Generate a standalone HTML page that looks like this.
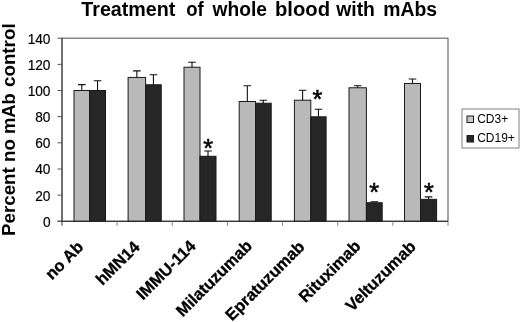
<!DOCTYPE html>
<html lang="en"><head><meta charset="utf-8"><title>Treatment of whole blood with mAbs</title>
<style>html,body{margin:0;padding:0;background:#fff}body{width:520px;height:322px;overflow:hidden}svg{display:block}text{font-family:"Liberation Sans",Arial,sans-serif;fill:#000}</style></head><body>
<svg width="520" height="322" viewBox="0 0 520 322">
<rect width="520" height="322" fill="#fff"/>
<g font-size="20" font-weight="bold">
<text x="81.3" y="15.9" textLength="94.1" lengthAdjust="spacingAndGlyphs">Treatment</text>
<text x="186.2" y="15.9" textLength="17.5" lengthAdjust="spacingAndGlyphs">of</text>
<text x="212.5" y="15.9" textLength="54.4" lengthAdjust="spacingAndGlyphs">whole</text>
<text x="274.95" y="15.9" textLength="55.1" lengthAdjust="spacingAndGlyphs">blood</text>
<text x="336.25" y="15.9" textLength="38.7" lengthAdjust="spacingAndGlyphs">with</text>
<text x="383.2" y="15.9" textLength="53.85" lengthAdjust="spacingAndGlyphs">mAbs</text>
</g>
<g font-size="18.75" font-weight="bold">
<text transform="translate(15.3,236.0) rotate(-90)" textLength="68.78" lengthAdjust="spacingAndGlyphs">Percent</text>
<text transform="translate(15.3,162.0) rotate(-90)" textLength="22.9" lengthAdjust="spacingAndGlyphs">no</text>
<text transform="translate(15.3,134.0) rotate(-90)" textLength="40.7" lengthAdjust="spacingAndGlyphs">mAb</text>
<text transform="translate(15.3,87.0) rotate(-90)" textLength="63.6" lengthAdjust="spacingAndGlyphs">control</text>
</g>
<rect x="62.0" y="38.2" width="386.0" height="183.10000000000002" fill="#fff" stroke="#6c6c6c" stroke-width="1.2"/>
<rect x="74.00" y="90.51" width="15.60" height="130.79" fill="#b9b9b9" stroke="#1a1a1a" stroke-width="1"/>
<path d="M81.80 90.51V84.63M78.00 84.63H85.60" stroke="#111" stroke-width="1.1" fill="none"/>
<rect x="89.60" y="90.51" width="15.90" height="130.79" fill="#262626" stroke="#1a1a1a" stroke-width="1"/>
<path d="M97.55 90.51V80.71M93.75 80.71H101.35" stroke="#111" stroke-width="1.1" fill="none"/>
<rect x="128.10" y="77.44" width="17.50" height="143.86" fill="#b9b9b9" stroke="#1a1a1a" stroke-width="1"/>
<path d="M136.85 77.44V70.90M133.05 70.90H140.65" stroke="#111" stroke-width="1.1" fill="none"/>
<rect x="145.60" y="84.76" width="15.65" height="136.54" fill="#262626" stroke="#1a1a1a" stroke-width="1"/>
<path d="M153.43 84.76V74.82M149.62 74.82H157.23" stroke="#111" stroke-width="1.1" fill="none"/>
<rect x="184.00" y="67.23" width="16.00" height="154.07" fill="#b9b9b9" stroke="#1a1a1a" stroke-width="1"/>
<path d="M192.00 67.23V62.26M188.20 62.26H195.80" stroke="#111" stroke-width="1.1" fill="none"/>
<rect x="200.00" y="156.30" width="16.00" height="65.00" fill="#262626" stroke="#1a1a1a" stroke-width="1"/>
<path d="M208.00 156.30V150.94M204.20 150.94H211.80" stroke="#111" stroke-width="1.1" fill="none"/>
<rect x="239.20" y="101.50" width="16.30" height="119.80" fill="#b9b9b9" stroke="#1a1a1a" stroke-width="1"/>
<path d="M247.35 101.50V85.68M243.55 85.68H251.15" stroke="#111" stroke-width="1.1" fill="none"/>
<rect x="255.50" y="103.20" width="15.70" height="118.10" fill="#262626" stroke="#1a1a1a" stroke-width="1"/>
<path d="M263.35 103.20V100.19M259.55 100.19H267.15" stroke="#111" stroke-width="1.1" fill="none"/>
<rect x="294.40" y="100.19" width="16.40" height="121.11" fill="#b9b9b9" stroke="#1a1a1a" stroke-width="1"/>
<path d="M302.60 100.19V90.25M298.80 90.25H306.40" stroke="#111" stroke-width="1.1" fill="none"/>
<rect x="310.80" y="116.80" width="15.30" height="104.50" fill="#262626" stroke="#1a1a1a" stroke-width="1"/>
<path d="M318.45 116.80V109.22M314.65 109.22H322.25" stroke="#111" stroke-width="1.1" fill="none"/>
<rect x="349.00" y="87.77" width="17.40" height="133.53" fill="#b9b9b9" stroke="#1a1a1a" stroke-width="1"/>
<path d="M357.70 87.77V85.68M353.90 85.68H361.50" stroke="#111" stroke-width="1.1" fill="none"/>
<rect x="366.40" y="202.73" width="15.80" height="18.57" fill="#262626" stroke="#1a1a1a" stroke-width="1"/>
<path d="M374.30 202.73V201.81M370.50 201.81H378.10" stroke="#111" stroke-width="1.1" fill="none"/>
<rect x="404.50" y="83.45" width="16.00" height="137.85" fill="#b9b9b9" stroke="#1a1a1a" stroke-width="1"/>
<path d="M412.50 83.45V79.01M408.70 79.01H416.30" stroke="#111" stroke-width="1.1" fill="none"/>
<rect x="420.50" y="199.33" width="16.10" height="21.97" fill="#262626" stroke="#1a1a1a" stroke-width="1"/>
<path d="M428.55 199.33V196.84M424.75 196.84H432.35" stroke="#111" stroke-width="1.1" fill="none"/>
<path d="M62.0 38.2V225.8" stroke="#444" stroke-width="1.1" fill="none"/>
<path d="M57.5 221.3H448.0" stroke="#262626" stroke-width="1.1" fill="none"/>
<path d="M57.5 221.30H62.0" stroke="#555" stroke-width="1"/>
<text x="50.5" y="226.70" font-size="14.67" stroke="#000" stroke-width="0.2" text-anchor="end" textLength="7.62" lengthAdjust="spacingAndGlyphs">0</text>
<path d="M57.5 195.14H62.0" stroke="#555" stroke-width="1"/>
<text x="50.5" y="200.54" font-size="14.67" stroke="#000" stroke-width="0.2" text-anchor="end" textLength="15.24" lengthAdjust="spacingAndGlyphs">20</text>
<path d="M57.5 168.99H62.0" stroke="#555" stroke-width="1"/>
<text x="50.5" y="174.39" font-size="14.67" stroke="#000" stroke-width="0.2" text-anchor="end" textLength="15.24" lengthAdjust="spacingAndGlyphs">40</text>
<path d="M57.5 142.83H62.0" stroke="#555" stroke-width="1"/>
<text x="50.5" y="148.23" font-size="14.67" stroke="#000" stroke-width="0.2" text-anchor="end" textLength="15.24" lengthAdjust="spacingAndGlyphs">60</text>
<path d="M57.5 116.67H62.0" stroke="#555" stroke-width="1"/>
<text x="50.5" y="122.07" font-size="14.67" stroke="#000" stroke-width="0.2" text-anchor="end" textLength="15.24" lengthAdjust="spacingAndGlyphs">80</text>
<path d="M57.5 90.51H62.0" stroke="#555" stroke-width="1"/>
<text x="50.5" y="95.91" font-size="14.67" stroke="#000" stroke-width="0.2" text-anchor="end" textLength="22.86" lengthAdjust="spacingAndGlyphs">100</text>
<path d="M57.5 64.36H62.0" stroke="#555" stroke-width="1"/>
<text x="50.5" y="69.76" font-size="14.67" stroke="#000" stroke-width="0.2" text-anchor="end" textLength="22.86" lengthAdjust="spacingAndGlyphs">120</text>
<path d="M57.5 38.20H62.0" stroke="#555" stroke-width="1"/>
<text x="50.5" y="43.60" font-size="14.67" stroke="#000" stroke-width="0.2" text-anchor="end" textLength="22.86" lengthAdjust="spacingAndGlyphs">140</text>
<path d="M117.14 221.3V225.8" stroke="#777" stroke-width="0.9"/>
<path d="M172.29 221.3V225.8" stroke="#777" stroke-width="0.9"/>
<path d="M227.43 221.3V225.8" stroke="#777" stroke-width="0.9"/>
<path d="M282.57 221.3V225.8" stroke="#777" stroke-width="0.9"/>
<path d="M337.71 221.3V225.8" stroke="#777" stroke-width="0.9"/>
<path d="M392.86 221.3V225.8" stroke="#777" stroke-width="0.9"/>
<path d="M448.00 221.3V225.8" stroke="#777" stroke-width="0.9"/>
<text transform="translate(84.47,248.00) rotate(-45)" font-size="16.45" font-weight="bold" stroke="#000" stroke-width="0.3" text-anchor="end">no Ab</text>
<text transform="translate(140.61,248.00) rotate(-45)" font-size="16.45" font-weight="bold" stroke="#000" stroke-width="0.3" text-anchor="end">hMN14</text>
<text transform="translate(196.66,247.10) rotate(-45)" font-size="16.45" font-weight="bold" stroke="#000" stroke-width="0.3" text-anchor="end">IMMU-114</text>
<text transform="translate(253.10,247.00) rotate(-45)" font-size="16.45" font-weight="bold" stroke="#000" stroke-width="0.3" text-anchor="end">Milatuzumab</text>
<text transform="translate(305.64,247.80) rotate(-45)" font-size="16.45" font-weight="bold" stroke="#000" stroke-width="0.3" text-anchor="end">Epratuzumab</text>
<text transform="translate(361.59,247.10) rotate(-45)" font-size="16.45" font-weight="bold" stroke="#000" stroke-width="0.3" text-anchor="end">Rituximab</text>
<text transform="translate(416.73,247.60) rotate(-45)" font-size="16.45" font-weight="bold" stroke="#000" stroke-width="0.3" text-anchor="end">Veltuzumab</text>
<text x="208.2" y="157.0" font-size="25.2" stroke="#000" stroke-width="0.55" text-anchor="middle">*</text>
<text x="317.4" y="107.9" font-size="25.2" stroke="#000" stroke-width="0.55" text-anchor="middle">*</text>
<text x="374.1" y="201.2" font-size="25.2" stroke="#000" stroke-width="0.55" text-anchor="middle">*</text>
<text x="428.9" y="200.6" font-size="25.2" stroke="#000" stroke-width="0.55" text-anchor="middle">*</text>
<rect x="462" y="109" width="57" height="39" fill="#fff" stroke="#808080" stroke-width="1"/>
<rect x="467" y="116" width="6.5" height="6.5" fill="#c8c8c8" stroke="#1a1a1a" stroke-width="1"/>
<rect x="467" y="135.5" width="6.5" height="6.5" fill="#262626" stroke="#1a1a1a" stroke-width="1"/>
<text x="477.2" y="122.7" font-size="12">CD3+</text>
<text x="477.2" y="142" font-size="12">CD19+</text>
</svg></body></html>
